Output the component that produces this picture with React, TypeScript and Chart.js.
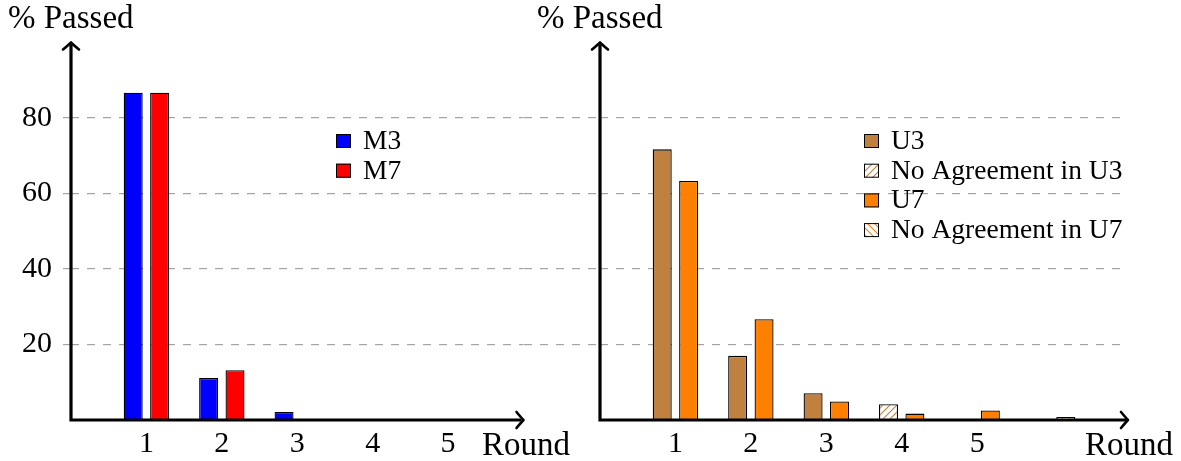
import React, { useEffect, useRef } from "react";
import { Chart, registerables } from "chart.js";

Chart.register(...registerables);

// ---- data ----
const leftLabels = ["", "1", "2", "3", "4", "5", ""];
const m3Values = [null, 86.7, 11.1, 2.1, null, null, null];
const m7Values = [null, 86.7, 13.2, null, null, null, null];

const rightLabels = ["", "1", "2", "3", "4", "5", "", ""];
const u3Values = [null, 71.7, 17.0, 7.1, null, null, null, null];
const noAgreeU3Values = [null, null, null, null, 4.2, null, null, null];
const u7Values = [null, 63.3, 26.7, 4.9, 1.7, 2.5, null, null];
const noAgreeU7Values = [null, null, null, null, null, null, 0.8, null];

const yTickValues = [20, 40, 60, 80];
const yMin = 0;
const yMax = 100;

const yTitle = "% Passed";
const xTitle = "Round";

// ---- styles ----
const W = 1181;
const H = 461;
const BLUE = "#0000ff";
const RED = "#ff0000";
const BROWN = "#bf8040";
const ORANGE = "#ff8000";
const GRID = "#a3a3a3";
const FONT = '"Liberation Serif", "DejaVu Serif", serif';

function hatch(color: string, dir: "ne" | "nw") {
  const s = 7;
  const c = document.createElement("canvas");
  c.width = s;
  c.height = s;
  const g = c.getContext("2d")!;
  g.fillStyle = "#ffffff";
  g.fillRect(0, 0, s, s);
  g.strokeStyle = color;
  g.lineWidth = 1.1;
  g.beginPath();
  if (dir === "ne") {
    g.moveTo(0, s); g.lineTo(s, 0);
    g.moveTo(-1, 1); g.lineTo(1, -1);
    g.moveTo(s - 1, s + 1); g.lineTo(s + 1, s - 1);
  } else {
    g.moveTo(0, 0); g.lineTo(s, s);
    g.moveTo(-1, s - 1); g.lineTo(1, s + 1);
    g.moveTo(s - 1, -1); g.lineTo(s + 1, 1);
  }
  g.stroke();
  return g.createPattern(c, "repeat")!;
}

type LegendItem = { label: string; fill: any };

function decorPlugin(cfg: {
  yTitleX: number;
  xTitleX: number;
  legendX: number;
  legendItems: LegendItem[];
}) {
  return {
    id: "decor",
    afterDatasetsDraw(chart: any) {
      const { ctx, chartArea: a } = chart;
      ctx.save();
      // axes
      ctx.strokeStyle = "#000";
      ctx.lineWidth = 3.2;
      ctx.lineJoin = "miter";
      ctx.lineCap = "butt";
      ctx.beginPath();
      ctx.moveTo(a.left, a.top + 2);
      ctx.lineTo(a.left, a.bottom);
      ctx.lineTo(a.right - 2, a.bottom);
      ctx.stroke();
      // arrow heads
      ctx.lineWidth = 2.6;
      ctx.lineCap = "round";
      ctx.lineJoin = "round";
      const tx = a.right, ty = a.bottom;
      ctx.beginPath();
      ctx.moveTo(tx - 7, ty - 8);
      ctx.quadraticCurveTo(tx - 2, ty - 2, tx, ty);
      ctx.quadraticCurveTo(tx - 2, ty + 2, tx - 7, ty + 8);
      ctx.stroke();
      const ux = a.left, uy = a.top;
      ctx.beginPath();
      ctx.moveTo(ux - 8, uy + 7);
      ctx.quadraticCurveTo(ux - 2, uy + 2, ux, uy);
      ctx.quadraticCurveTo(ux + 2, uy + 2, ux + 8, uy + 7);
      ctx.stroke();
      // titles
      ctx.fillStyle = "#000";
      ctx.textBaseline = "alphabetic";
      ctx.textAlign = "left";
      ctx.font = `33px ${FONT}`;
      ctx.fillText(yTitle, cfg.yTitleX, 28);
      ctx.fillText(xTitle, cfg.xTitleX, 455);
      // legend
      ctx.font = `27.5px ${FONT}`;
      ctx.lineWidth = 1;
      ctx.lineCap = "butt";
      ctx.lineJoin = "miter";
      cfg.legendItems.forEach((it, i) => {
        const base = 149 + i * 29.7;
        ctx.fillStyle = it.fill;
        ctx.fillRect(cfg.legendX, base - 15, 15, 14);
        ctx.strokeStyle = "#000";
        ctx.strokeRect(cfg.legendX + 0.5, base - 14.5, 14, 13);
        ctx.fillStyle = "#000";
        ctx.fillText(it.label, cfg.legendX + 27, base);
      });
      ctx.restore();
    },
  };
}

function baseOptions(opts: {
  padLeft: number;
  padRight: number;
  yWidth: number;
  tickLength: number;
  showYLabels: boolean;
  stacked: boolean;
}) {
  return {
    animation: false as const,
    responsive: false,
    maintainAspectRatio: false,
    events: [] as any[],
    layout: { padding: { left: opts.padLeft, right: opts.padRight, top: 42.5, bottom: 0 } },
    plugins: { legend: { display: false }, tooltip: { enabled: false } },
    datasets: { bar: { categoryPercentage: 0.7, barPercentage: 0.72, borderWidth: 1.3, borderColor: "#000" } },
    scales: {
      x: {
        type: "category" as const,
        offset: false,
        stacked: opts.stacked,
        grid: { display: false, drawTicks: false },
        border: { display: false },
        ticks: {
          autoSkip: false,
          maxRotation: 0,
          color: "#000",
          padding: 6,
          font: { family: FONT, size: 30 },
        },
        afterFit: (s: any) => { s.height = 41; },
      },
      y: {
        type: "linear" as const,
        min: yMin,
        max: yMax,
        stacked: opts.stacked,
        afterBuildTicks: (s: any) => { s.ticks = yTickValues.map((v) => ({ value: v })); },
        grid: {
          color: GRID,
          lineWidth: 1.2,
          drawTicks: true,
          tickLength: opts.tickLength,
          tickColor: GRID,
          tickWidth: 1.2,
          tickBorderDash: [8, 8],
        },
        border: { display: false, dash: [8, 8] },
        ticks: {
          color: "#000",
          padding: 11,
          font: { family: FONT, size: 30 },
          callback: (v: any) => (opts.showYLabels ? String(v) : ""),
        },
        afterFit: (s: any) => { s.width = opts.yWidth; },
      },
    },
  };
}

export default function App() {
  const leftRef = useRef<HTMLCanvasElement>(null);
  const rightRef = useRef<HTMLCanvasElement>(null);

  useEffect(() => {
    const na3 = hatch(BROWN, "ne");
    const na7 = hatch(ORANGE, "nw");

    const left = new Chart(leftRef.current!, {
      type: "bar",
      data: {
        labels: leftLabels,
        datasets: [
          { label: "M3", data: m3Values, backgroundColor: BLUE },
          { label: "M7", data: m7Values, backgroundColor: RED },
        ],
      },
      options: baseOptions({ padLeft: 0, padRight: W - 523.5, yWidth: 71, tickLength: 8, showYLabels: true, stacked: false }) as any,
      plugins: [
        decorPlugin({
          yTitleX: 8,
          xTitleX: 482,
          legendX: 336,
          legendItems: [
            { label: "M3", fill: BLUE },
            { label: "M7", fill: RED },
          ],
        }),
      ],
    });

    const right = new Chart(rightRef.current!, {
      type: "bar",
      data: {
        labels: rightLabels,
        datasets: [
          { label: "U3", data: u3Values, backgroundColor: BROWN, stack: "U3" },
          { label: "No Agreement in U3", data: noAgreeU3Values, backgroundColor: na3, stack: "U3" },
          { label: "U7", data: u7Values, backgroundColor: ORANGE, stack: "U7" },
          { label: "No Agreement in U7", data: noAgreeU7Values, backgroundColor: na7, stack: "U7" },
        ],
      },
      options: baseOptions({ padLeft: 524, padRight: W - 1128, yWidth: 76, tickLength: 76, showYLabels: false, stacked: true }) as any,
      plugins: [
        decorPlugin({
          yTitleX: 537,
          xTitleX: 1085,
          legendX: 864,
          legendItems: [
            { label: "U3", fill: BROWN },
            { label: "No Agreement in U3", fill: na3 },
            { label: "U7", fill: ORANGE },
            { label: "No Agreement in U7", fill: na7 },
          ],
        }),
      ],
    });

    return () => {
      left.destroy();
      right.destroy();
    };
  }, []);

  const cv: React.CSSProperties = { position: "absolute", left: 0, top: 0, width: W, height: H };
  return (
    <div style={{ position: "absolute", left: 0, top: 0, width: W, height: H, background: "#fff" }}>
      <canvas ref={leftRef} width={W} height={H} style={cv} />
      <canvas ref={rightRef} width={W} height={H} style={cv} />
    </div>
  );
}
